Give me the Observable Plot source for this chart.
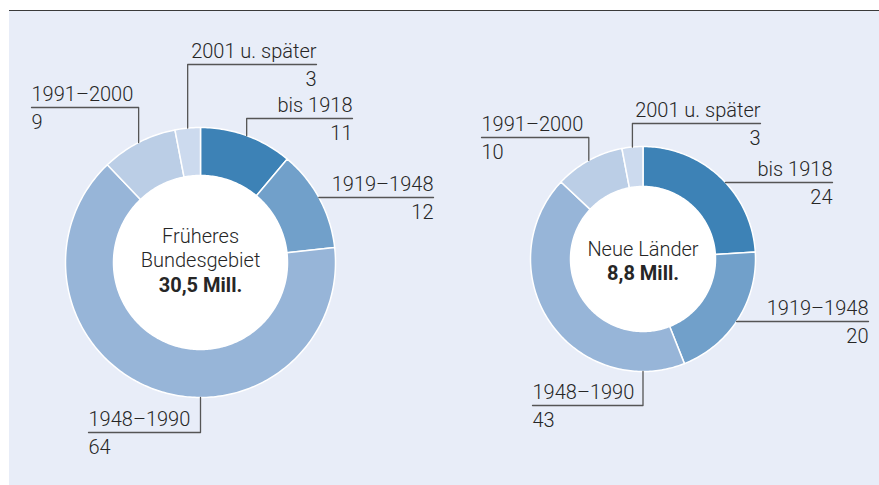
<!DOCTYPE html>
<html>
<head>
<meta charset="utf-8">
<script src="https://cdn.jsdelivr.net/npm/d3@7"></script>
<script src="https://cdn.jsdelivr.net/npm/@observablehq/plot@0.6"></script>
<style>
  html, body { margin: 0; padding: 0; background: #ffffff; }
  #wrap { position: relative; width: 879px; height: 485px; overflow: hidden; }
  #panel { position: absolute; left: 9px; top: 10px; width: 870px; height: 475px;
           background: #E8EDF8; border-top: 1.6px solid #3a3a3a; box-sizing: border-box; }
  #chart { position: absolute; left: 0; top: 0; }
</style>
</head>
<body>
<div id="wrap"><div id="panel"></div><div id="chart"></div></div>
<script>
// ---- data ----
const categories = ["bis 1918", "1919–1948", "1948–1990", "1991–2000", "2001 u. später"];
const westValues = [11, 12, 64, 9, 3];
const eastValues = [24, 20, 43, 10, 3];
const regionNames = [["Früheres", "Bundesgebiet"], ["Neue Länder"]];
const regionTotals = ["30,5 Mill.", "8,8 Mill."];

// ---- styles ----
const palette = ["#3D82B6", "#71A0CA", "#97B5D8", "#BBCEE6", "#CCDAEE"];
const textColor = "#262626";
const leaderColor = "#555555";
const fontSize = 20;
const labelWeight = 300;

// ---- layout (pixels) ----
const layout = [
  { cx: 200, cy: 262, r1: 135, r0: 87, firstBaseline: 242,
    labels: [
      { lineY: 118, outerX: 352, leader: "v" },
      { lineY: 197, outerX: 433, leader: "h" },
      { lineY: 432, outerX: 88,  leader: "v" },
      { lineY: 107, outerX: 31,  leader: "v" },
      { lineY: 64,  outerX: 316, leader: "v" }
    ] },
  { cx: 642.5, cy: 258.5, r1: 112.5, r0: 72.5, firstBaseline: 255,
    labels: [
      { lineY: 182, outerX: 832, leader: "h" },
      { lineY: 321, outerX: 868, leader: "h" },
      { lineY: 405, outerX: 532, leader: "v" },
      { lineY: 137, outerX: 481, leader: "v" },
      { lineY: 123, outerX: 760, leader: "v" }
    ] }
];

const series = [westValues, eastValues];

const slicePts = [];
const leaderPts = [];
const labelTexts = [];
const centerTexts = [];

series.forEach((vals, di) => {
  const L = layout[di];
  const arcs = d3.pie().sort(null).value(d => d)(vals);
  arcs.forEach((a, i) => {
    const key = di + "-" + i;
    const n = Math.max(2, Math.ceil((a.endAngle - a.startAngle) / (Math.PI / 180)));
    for (let k = 0; k <= n; k++) {
      const t = a.startAngle + (a.endAngle - a.startAngle) * k / n;
      slicePts.push({ key, color: palette[i], x: L.cx + L.r1 * Math.sin(t), y: L.cy - L.r1 * Math.cos(t) });
    }
    for (let k = n; k >= 0; k--) {
      const t = a.startAngle + (a.endAngle - a.startAngle) * k / n;
      slicePts.push({ key, color: palette[i], x: L.cx + L.r0 * Math.sin(t), y: L.cy - L.r0 * Math.cos(t) });
    }
    // leader
    const lab = L.labels[i];
    let ang = (a.startAngle + a.endAngle) / 2;
    if (a.startAngle < Math.PI && a.endAngle > Math.PI) ang = Math.PI;
    let px, py;
    if (lab.leader === "v") {
      px = L.cx + L.r1 * Math.sin(ang);
      py = L.cy - L.r1 * Math.cos(ang);
      leaderPts.push({ key, x: px, y: py }, { key, x: px, y: lab.lineY }, { key, x: lab.outerX, y: lab.lineY });
    } else {
      const side = lab.outerX > L.cx ? 1 : -1;
      px = L.cx + side * Math.sqrt(L.r1 * L.r1 - (lab.lineY - L.cy) ** 2);
      leaderPts.push({ key, x: px, y: lab.lineY }, { key, x: lab.outerX, y: lab.lineY });
    }
    const anchor = lab.outerX > px ? "end" : "start";
    labelTexts.push({ x: lab.outerX, y: lab.lineY - 7, text: categories[i], anchor });
    labelTexts.push({ x: lab.outerX, y: lab.lineY + 21, text: String(vals[i]), anchor });
  });
  regionNames[di].forEach((s, j) => centerTexts.push({ x: L.cx, y: L.firstBaseline + j * 24.5, text: s, bold: false }));
  centerTexts.push({ x: L.cx, y: L.firstBaseline + regionNames[di].length * 24.5, text: regionTotals[di], bold: true });
});

const holeMarks = layout.map(L =>
  Plot.dot([L], { x: "cx", y: "cy", r: L.r0, fill: "white", stroke: "none" })
);

const chart = Plot.plot({
  width: 879,
  height: 485,
  margin: 0,
  x: { domain: [0, 879], range: [0, 879], axis: null },
  y: { domain: [0, 485], range: [0, 485], axis: null },
  color: { type: "identity" },
  style: { background: "transparent", fontFamily: "Roboto, 'DejaVu Sans', sans-serif" },
  marks: [
    Plot.line(slicePts, { x: "x", y: "y", z: "key", fill: "color", stroke: "white", strokeWidth: 1.5, curve: "linear-closed" }),
    ...holeMarks,
    Plot.line(leaderPts, { x: "x", y: "y", z: "key", stroke: leaderColor, strokeWidth: 1.3 }),
    Plot.text(labelTexts.filter(d => d.anchor === "end"), { x: "x", y: "y", text: "text", textAnchor: "end", lineAnchor: "bottom", fontSize, fontWeight: labelWeight, fill: textColor }),
    Plot.text(labelTexts.filter(d => d.anchor === "start"), { x: "x", y: "y", text: "text", textAnchor: "start", lineAnchor: "bottom", fontSize, fontWeight: labelWeight, fill: textColor }),
    Plot.text(centerTexts.filter(d => !d.bold), { x: "x", y: "y", text: "text", textAnchor: "middle", lineAnchor: "bottom", fontSize, fontWeight: labelWeight, fill: textColor }),
    Plot.text(centerTexts.filter(d => d.bold), { x: "x", y: "y", text: "text", textAnchor: "middle", lineAnchor: "bottom", fontSize, fontWeight: "bold", fill: textColor })
  ]
});
document.getElementById("chart").appendChild(chart);
</script>
</body>
</html>
